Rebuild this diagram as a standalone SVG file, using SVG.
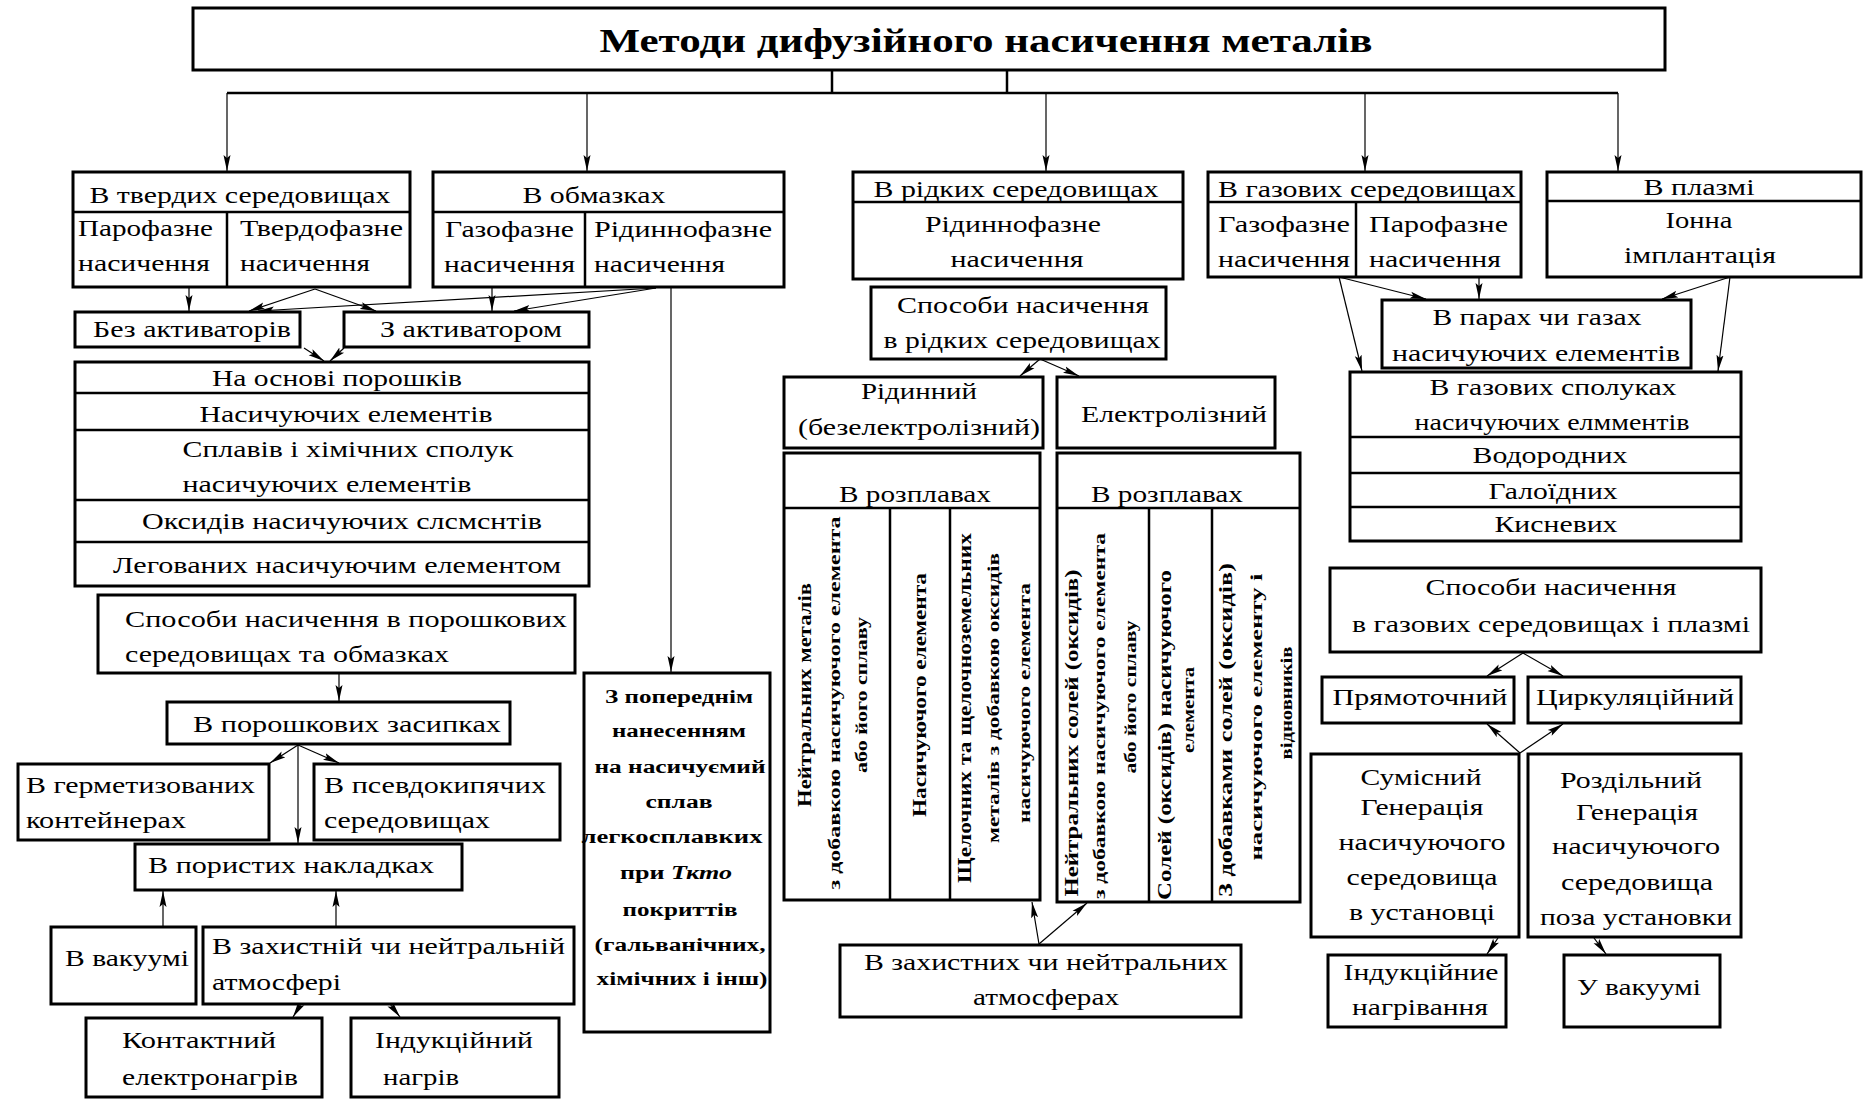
<svg xmlns="http://www.w3.org/2000/svg" width="1865" height="1100" viewBox="0 0 1865 1100">
<style>
.b{fill:#fff;stroke:#000;stroke-width:3}
.d{stroke:#000;stroke-width:2.5;fill:none}
.c{stroke:#000;stroke-width:1.2;fill:none;marker-end:url(#ah)}
.l{stroke:#000;stroke-width:2.5;fill:none}
.t{font-family:"Liberation Serif","Times New Roman",serif;font-size:23px;fill:#000}
.m{text-anchor:middle}
.h{font-weight:bold;font-size:34px}
.z{font-weight:bold;font-size:18px;text-anchor:middle}
.v{font-weight:bold;font-size:16px;text-anchor:middle}
.vb{font-weight:bold;font-size:18px;text-anchor:middle}
</style>
<defs>
<marker id="ah" markerUnits="userSpaceOnUse" markerWidth="17" markerHeight="9" refX="16" refY="4.5" orient="auto">
<path d="M0,1 L16,4.5 L0,8 L3,4.5 z" fill="#000"/>
</marker>
</defs>
<rect width="1865" height="1100" fill="#fff"/>

<g id="connectors">
<line class="l" x1="832" y1="70" x2="832" y2="93"/>
<line class="l" x1="1007" y1="70" x2="1007" y2="93"/>
<line class="l" x1="227" y1="93" x2="1618" y2="93"/>
<line class="c" x1="227" y1="93" x2="227" y2="171"/>
<line class="c" x1="587" y1="93" x2="587" y2="171"/>
<line class="c" x1="1046" y1="93" x2="1046" y2="171"/>
<line class="c" x1="1365" y1="93" x2="1365" y2="171"/>
<line class="c" x1="1618" y1="93" x2="1618" y2="171"/>
<line class="c" x1="189" y1="287" x2="189" y2="311"/>
<line class="c" x1="315" y1="289" x2="249" y2="311"/>
<line class="c" x1="315" y1="289" x2="376" y2="311"/>
<line class="c" x1="492" y1="287" x2="492" y2="311"/>
<line class="c" x1="656" y1="288" x2="514" y2="311"/>
<line class="c" x1="656" y1="288" x2="258" y2="311"/>
<line class="c" x1="304" y1="348" x2="324" y2="361"/>
<line class="c" x1="344" y1="348" x2="330" y2="361"/>
<line class="c" x1="671" y1="288" x2="671" y2="672"/>
<line class="c" x1="339" y1="673" x2="339" y2="701"/>
<line class="c" x1="298" y1="745" x2="270" y2="763"/>
<line class="c" x1="298" y1="745" x2="339" y2="763"/>
<line class="c" x1="298" y1="745" x2="298" y2="843"/>
<line class="c" x1="163" y1="927" x2="163" y2="891"/>
<line class="c" x1="336" y1="927" x2="336" y2="891"/>
<line class="c" x1="301" y1="1004" x2="293" y2="1017"/>
<line class="c" x1="390" y1="1004" x2="400" y2="1017"/>
<line class="c" x1="1040" y1="359" x2="1020" y2="376"/>
<line class="c" x1="1040" y1="359" x2="1079" y2="376"/>
<line class="c" x1="1039" y1="944" x2="1032" y2="902"/>
<line class="c" x1="1039" y1="944" x2="1087" y2="903"/>
<line class="c" x1="1339" y1="277" x2="1426" y2="299"/>
<line class="c" x1="1339" y1="277" x2="1362" y2="371"/>
<line class="c" x1="1479" y1="277" x2="1479" y2="299"/>
<line class="c" x1="1730" y1="277" x2="1662" y2="299"/>
<line class="c" x1="1730" y1="277" x2="1718" y2="371"/>
<line class="c" x1="1523" y1="653" x2="1487" y2="676"/>
<line class="c" x1="1523" y1="653" x2="1563" y2="676"/>
<line class="c" x1="1520" y1="753" x2="1487" y2="724"/>
<line class="c" x1="1520" y1="753" x2="1563" y2="724"/>
<line class="c" x1="1498" y1="938" x2="1487" y2="954"/>
<line class="c" x1="1594" y1="938" x2="1606" y2="954"/>
</g>

<g id="n0">
<rect class="b" x="193" y="8" width="1472" height="62"/>
<text class="t h m" x="986" y="52" textLength="773" lengthAdjust="spacingAndGlyphs">Методи дифузійного насичення металів</text>
</g>

<g id="n1">
<rect class="b" x="73" y="172" width="337" height="115"/>
<line class="d" x1="73" y1="212" x2="410" y2="212"/>
<line class="d" x1="227" y1="212" x2="227" y2="287"/>
<text class="t m" x="240" y="203" textLength="301" lengthAdjust="spacingAndGlyphs">В твердих середовищах</text>
<text class="t" x="78" y="236" textLength="135" lengthAdjust="spacingAndGlyphs">Парофазне</text>
<text class="t" x="78" y="271" textLength="132" lengthAdjust="spacingAndGlyphs">насичення</text>
<text class="t" x="240" y="236" textLength="163" lengthAdjust="spacingAndGlyphs">Твердофазне</text>
<text class="t" x="240" y="271" textLength="130" lengthAdjust="spacingAndGlyphs">насичення</text>
</g>

<g id="n2">
<rect class="b" x="433" y="172" width="351" height="115"/>
<line class="d" x1="433" y1="212" x2="784" y2="212"/>
<line class="d" x1="585" y1="212" x2="585" y2="287"/>
<text class="t m" x="594" y="203" textLength="143" lengthAdjust="spacingAndGlyphs">В обмазках</text>
<text class="t" x="445" y="237" textLength="129" lengthAdjust="spacingAndGlyphs">Газофазне</text>
<text class="t" x="444" y="272" textLength="131" lengthAdjust="spacingAndGlyphs">насичення</text>
<text class="t" x="594" y="237" textLength="178" lengthAdjust="spacingAndGlyphs">Рідиннофазне</text>
<text class="t" x="594" y="272" textLength="131" lengthAdjust="spacingAndGlyphs">насичення</text>
</g>

<g id="n3">
<rect class="b" x="853" y="172" width="330" height="107"/>
<line class="d" x1="853" y1="202" x2="1183" y2="202"/>
<text class="t m" x="1016" y="197" textLength="285" lengthAdjust="spacingAndGlyphs">В рідких середовищах</text>
<text class="t m" x="1013" y="232" textLength="176" lengthAdjust="spacingAndGlyphs">Рідиннофазне</text>
<text class="t m" x="1017" y="267" textLength="133" lengthAdjust="spacingAndGlyphs">насичення</text>
</g>

<g id="n4">
<rect class="b" x="1208" y="172" width="313" height="105"/>
<line class="d" x1="1208" y1="202" x2="1521" y2="202"/>
<line class="d" x1="1356" y1="202" x2="1356" y2="277"/>
<text class="t m" x="1367" y="197" textLength="298" lengthAdjust="spacingAndGlyphs">В газових середовищах</text>
<text class="t" x="1218" y="232" textLength="132" lengthAdjust="spacingAndGlyphs">Газофазне</text>
<text class="t" x="1218" y="267" textLength="132" lengthAdjust="spacingAndGlyphs">насичення</text>
<text class="t" x="1369" y="232" textLength="139" lengthAdjust="spacingAndGlyphs">Парофазне</text>
<text class="t" x="1369" y="267" textLength="132" lengthAdjust="spacingAndGlyphs">насичення</text>
</g>

<g id="n5">
<rect class="b" x="1547" y="172" width="314" height="105"/>
<line class="d" x1="1547" y1="201" x2="1861" y2="201"/>
<text class="t m" x="1699" y="195" textLength="111" lengthAdjust="spacingAndGlyphs">В плазмі</text>
<text class="t m" x="1699" y="228" textLength="67" lengthAdjust="spacingAndGlyphs">Іонна</text>
<text class="t m" x="1700" y="263" textLength="152" lengthAdjust="spacingAndGlyphs">імплантація</text>
</g>

<g id="n6">
<rect class="b" x="75" y="312" width="225" height="35"/>
<text class="t m" x="192" y="337" textLength="198" lengthAdjust="spacingAndGlyphs">Без активаторів</text>
</g>

<g id="n7">
<rect class="b" x="344" y="312" width="245" height="35"/>
<text class="t m" x="471" y="337" textLength="182" lengthAdjust="spacingAndGlyphs">З активатором</text>
</g>

<g id="n8">
<rect class="b" x="75" y="362" width="514" height="224"/>
<line class="d" x1="75" y1="393" x2="589" y2="393"/>
<line class="d" x1="75" y1="430" x2="589" y2="430"/>
<line class="d" x1="75" y1="500" x2="589" y2="500"/>
<line class="d" x1="75" y1="542" x2="589" y2="542"/>
<text class="t m" x="337" y="386" textLength="250" lengthAdjust="spacingAndGlyphs">На основі порошків</text>
<text class="t m" x="346" y="422" textLength="293" lengthAdjust="spacingAndGlyphs">Насичуючих елементів</text>
<text class="t m" x="348" y="457" textLength="331" lengthAdjust="spacingAndGlyphs">Сплавів і хімічних сполук</text>
<text class="t m" x="327" y="492" textLength="289" lengthAdjust="spacingAndGlyphs">насичуючих елементів</text>
<text class="t m" x="342" y="529" textLength="400" lengthAdjust="spacingAndGlyphs">Оксидів насичуючих слсмснтів</text>
<text class="t m" x="337" y="573" textLength="448" lengthAdjust="spacingAndGlyphs">Легованих насичуючим елементом</text>
</g>

<g id="n9">
<rect class="b" x="98" y="595" width="477" height="78"/>
<text class="t" x="125" y="627" textLength="442" lengthAdjust="spacingAndGlyphs">Способи насичення в порошкових</text>
<text class="t" x="125" y="662" textLength="324" lengthAdjust="spacingAndGlyphs">середовищах та обмазках</text>
</g>

<g id="n10">
<rect class="b" x="167" y="702" width="343" height="42"/>
<text class="t" x="193" y="732" textLength="308" lengthAdjust="spacingAndGlyphs">В порошкових засипках</text>
</g>

<g id="n11">
<rect class="b" x="18" y="764" width="251" height="76"/>
<text class="t" x="26" y="793" textLength="229" lengthAdjust="spacingAndGlyphs">В герметизованих</text>
<text class="t" x="26" y="828" textLength="160" lengthAdjust="spacingAndGlyphs">контейнерах</text>
</g>

<g id="n12">
<rect class="b" x="314" y="764" width="246" height="76"/>
<text class="t" x="324" y="793" textLength="222" lengthAdjust="spacingAndGlyphs">В псевдокипячих</text>
<text class="t" x="324" y="828" textLength="166" lengthAdjust="spacingAndGlyphs">середовищах</text>
</g>

<g id="n13">
<rect class="b" x="135" y="844" width="327" height="46"/>
<text class="t" x="148" y="873" textLength="286" lengthAdjust="spacingAndGlyphs">В пористих накладках</text>
</g>

<g id="n14">
<rect class="b" x="51" y="927" width="145" height="77"/>
<text class="t m" x="127" y="966" textLength="124" lengthAdjust="spacingAndGlyphs">В вакуумі</text>
</g>

<g id="n15">
<rect class="b" x="203" y="927" width="371" height="77"/>
<text class="t" x="212" y="954" textLength="353" lengthAdjust="spacingAndGlyphs">В захистній чи нейтральній</text>
<text class="t" x="212" y="990" textLength="129" lengthAdjust="spacingAndGlyphs">атмосфері</text>
</g>

<g id="n16">
<rect class="b" x="86" y="1018" width="236" height="79"/>
<text class="t" x="122" y="1048" textLength="154" lengthAdjust="spacingAndGlyphs">Контактний</text>
<text class="t" x="122" y="1085" textLength="176" lengthAdjust="spacingAndGlyphs">електронагрів</text>
</g>

<g id="n17">
<rect class="b" x="351" y="1018" width="208" height="79"/>
<text class="t" x="375" y="1048" textLength="158" lengthAdjust="spacingAndGlyphs">Індукційний</text>
<text class="t" x="383" y="1085" textLength="76" lengthAdjust="spacingAndGlyphs">нагрів</text>
</g>

<g id="n18">
<rect class="b" x="584" y="673" width="186" height="359"/>
<text class="t z" x="679" y="703" textLength="148" lengthAdjust="spacingAndGlyphs">З попереднім</text>
<text class="t z" x="679" y="737" textLength="134" lengthAdjust="spacingAndGlyphs">нанесенням</text>
<text class="t z" x="680" y="773" textLength="171" lengthAdjust="spacingAndGlyphs">на насичуємий</text>
<text class="t z" x="679" y="808" textLength="67" lengthAdjust="spacingAndGlyphs">сплав</text>
<text class="t z" x="672" y="843" textLength="181" lengthAdjust="spacingAndGlyphs">легкосплавких</text>
<text class="t z" x="676" y="879" textLength="112" lengthAdjust="spacingAndGlyphs">при <tspan font-style="italic">Ткто</tspan></text>
<text class="t z" x="680" y="916" textLength="115" lengthAdjust="spacingAndGlyphs">покриттів</text>
<text class="t z" x="680" y="951" textLength="171" lengthAdjust="spacingAndGlyphs">(гальванічних,</text>
<text class="t z" x="682" y="985" textLength="171" lengthAdjust="spacingAndGlyphs">хімічних і інш)</text>
</g>

<g id="n19">
<rect class="b" x="871" y="287" width="295" height="72"/>
<text class="t m" x="1023" y="313" textLength="252" lengthAdjust="spacingAndGlyphs">Способи насичення</text>
<text class="t m" x="1022" y="348" textLength="277" lengthAdjust="spacingAndGlyphs">в рідких середовищах</text>
</g>

<g id="n20">
<rect class="b" x="784" y="377" width="259" height="71"/>
<text class="t m" x="919" y="399" textLength="116" lengthAdjust="spacingAndGlyphs">Рідинний</text>
<text class="t m" x="919" y="435" textLength="242" lengthAdjust="spacingAndGlyphs">(безелектролізний)</text>
</g>

<g id="n21">
<rect class="b" x="1057" y="377" width="218" height="71"/>
<text class="t m" x="1174" y="422" textLength="186" lengthAdjust="spacingAndGlyphs">Електролізний</text>
</g>

<g id="n22">
<rect class="b" x="784" y="453" width="256" height="447"/>
<line class="d" x1="784" y1="508" x2="1040" y2="508"/>
<line class="d" x1="890" y1="508" x2="890" y2="900"/>
<line class="d" x1="950" y1="508" x2="950" y2="900"/>
<text class="t m" x="915" y="502" textLength="152" lengthAdjust="spacingAndGlyphs">В розплавах</text>
<text class="t vb" transform="translate(811,695) rotate(-90)" textLength="224" lengthAdjust="spacingAndGlyphs">Нейтральних металів</text>
<text class="t v" transform="translate(840,703) rotate(-90)" textLength="373" lengthAdjust="spacingAndGlyphs">з добавкою насичуючого елемента</text>
<text class="t v" transform="translate(867,695) rotate(-90)" textLength="156" lengthAdjust="spacingAndGlyphs">або його сплаву</text>
<text class="t vb" transform="translate(926,695) rotate(-90)" textLength="244" lengthAdjust="spacingAndGlyphs">Насичуючого елемента</text>
<text class="t vb" transform="translate(971,708) rotate(-90)" textLength="350" lengthAdjust="spacingAndGlyphs">Щелочних та щелочноземельних</text>
<text class="t v" transform="translate(999,698) rotate(-90)" textLength="290" lengthAdjust="spacingAndGlyphs">металів з добавкою оксидів</text>
<text class="t v" transform="translate(1030,703) rotate(-90)" textLength="240" lengthAdjust="spacingAndGlyphs">насичуючого елемента</text>
</g>

<g id="n23">
<rect class="b" x="1057" y="453" width="243" height="449"/>
<line class="d" x1="1057" y1="508" x2="1300" y2="508"/>
<line class="d" x1="1149" y1="508" x2="1149" y2="902"/>
<line class="d" x1="1212" y1="508" x2="1212" y2="902"/>
<text class="t m" x="1167" y="502" textLength="152" lengthAdjust="spacingAndGlyphs">В розплавах</text>
<text class="t vb" transform="translate(1078,733) rotate(-90)" textLength="327" lengthAdjust="spacingAndGlyphs">Нейтральних солей (оксидів)</text>
<text class="t v" transform="translate(1105,716) rotate(-90)" textLength="366" lengthAdjust="spacingAndGlyphs">з добавкою насичуючого елемента</text>
<text class="t v" transform="translate(1136,697) rotate(-90)" textLength="153" lengthAdjust="spacingAndGlyphs">або його сплаву</text>
<text class="t vb" transform="translate(1171,735) rotate(-90)" textLength="330" lengthAdjust="spacingAndGlyphs">Солей (оксидів) насичуючого</text>
<text class="t v" transform="translate(1194,710) rotate(-90)" textLength="86" lengthAdjust="spacingAndGlyphs">елемента</text>
<text class="t vb" transform="translate(1232,730) rotate(-90)" textLength="334" lengthAdjust="spacingAndGlyphs">З добавками солей (оксидів)</text>
<text class="t v" transform="translate(1262,717) rotate(-90)" textLength="287" lengthAdjust="spacingAndGlyphs">насичуючого елементу і</text>
<text class="t v" transform="translate(1292,703) rotate(-90)" textLength="113" lengthAdjust="spacingAndGlyphs">відновників</text>
</g>

<g id="n24">
<rect class="b" x="840" y="945" width="401" height="72"/>
<text class="t m" x="1046" y="970" textLength="364" lengthAdjust="spacingAndGlyphs">В захистних чи нейтральних</text>
<text class="t m" x="1046" y="1005" textLength="146" lengthAdjust="spacingAndGlyphs">атмосферах</text>
</g>

<g id="n25">
<rect class="b" x="1382" y="300" width="309" height="68"/>
<text class="t m" x="1537" y="325" textLength="209" lengthAdjust="spacingAndGlyphs">В парах чи газах</text>
<text class="t m" x="1536" y="361" textLength="288" lengthAdjust="spacingAndGlyphs">насичуючих елементів</text>
</g>

<g id="n26">
<rect class="b" x="1350" y="372" width="391" height="169"/>
<line class="d" x1="1350" y1="437" x2="1741" y2="437"/>
<line class="d" x1="1350" y1="473" x2="1741" y2="473"/>
<line class="d" x1="1350" y1="507" x2="1741" y2="507"/>
<text class="t m" x="1553" y="395" textLength="247" lengthAdjust="spacingAndGlyphs">В газових сполуках</text>
<text class="t m" x="1552" y="430" textLength="275" lengthAdjust="spacingAndGlyphs">насичуючих елмментів</text>
<text class="t m" x="1550" y="463" textLength="155" lengthAdjust="spacingAndGlyphs">Водородних</text>
<text class="t m" x="1553" y="499" textLength="129" lengthAdjust="spacingAndGlyphs">Галоїдних</text>
<text class="t m" x="1556" y="532" textLength="123" lengthAdjust="spacingAndGlyphs">Кисневих</text>
</g>

<g id="n27">
<rect class="b" x="1330" y="568" width="431" height="84"/>
<text class="t m" x="1551" y="595" textLength="251" lengthAdjust="spacingAndGlyphs">Способи насичення</text>
<text class="t m" x="1551" y="632" textLength="398" lengthAdjust="spacingAndGlyphs">в газових середовищах і плазмі</text>
</g>

<g id="n28">
<rect class="b" x="1322" y="677" width="192" height="46"/>
<text class="t m" x="1420" y="705" textLength="175" lengthAdjust="spacingAndGlyphs">Прямоточний</text>
</g>

<g id="n29">
<rect class="b" x="1528" y="677" width="213" height="46"/>
<text class="t m" x="1635" y="705" textLength="198" lengthAdjust="spacingAndGlyphs">Циркуляційний</text>
</g>

<g id="n30">
<rect class="b" x="1311" y="754" width="208" height="183"/>
<text class="t m" x="1421" y="785" textLength="121" lengthAdjust="spacingAndGlyphs">Сумісний</text>
<text class="t m" x="1422" y="815" textLength="123" lengthAdjust="spacingAndGlyphs">Генерація</text>
<text class="t m" x="1422" y="850" textLength="167" lengthAdjust="spacingAndGlyphs">насичуючого</text>
<text class="t m" x="1422" y="885" textLength="151" lengthAdjust="spacingAndGlyphs">середовища</text>
<text class="t m" x="1422" y="920" textLength="146" lengthAdjust="spacingAndGlyphs">в установці</text>
</g>

<g id="n31">
<rect class="b" x="1528" y="754" width="213" height="183"/>
<text class="t m" x="1631" y="788" textLength="142" lengthAdjust="spacingAndGlyphs">Роздільний</text>
<text class="t m" x="1637" y="820" textLength="122" lengthAdjust="spacingAndGlyphs">Генерація</text>
<text class="t m" x="1636" y="854" textLength="168" lengthAdjust="spacingAndGlyphs">насичуючого</text>
<text class="t m" x="1637" y="890" textLength="152" lengthAdjust="spacingAndGlyphs">середовища</text>
<text class="t m" x="1636" y="925" textLength="192" lengthAdjust="spacingAndGlyphs">поза установки</text>
</g>

<g id="n32">
<rect class="b" x="1328" y="955" width="178" height="72"/>
<text class="t m" x="1421" y="980" textLength="155" lengthAdjust="spacingAndGlyphs">Індукційние</text>
<text class="t m" x="1420" y="1015" textLength="136" lengthAdjust="spacingAndGlyphs">нагрівання</text>
</g>

<g id="n33">
<rect class="b" x="1564" y="955" width="156" height="72"/>
<text class="t m" x="1639" y="995" textLength="124" lengthAdjust="spacingAndGlyphs">У вакуумі</text>
</g>
</svg>
